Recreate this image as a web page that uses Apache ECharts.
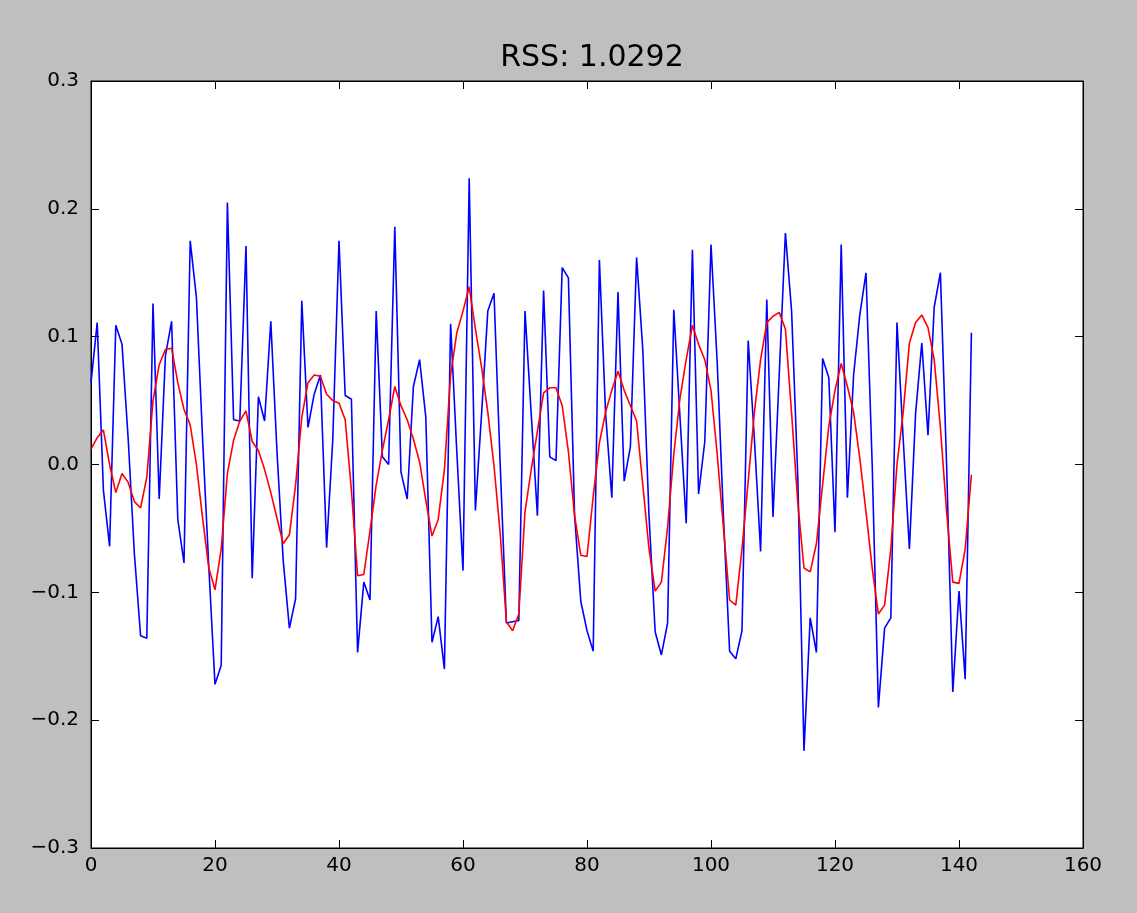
<!DOCTYPE html>
<html>
<head>
<meta charset="utf-8">
<script src="https://cdn.jsdelivr.net/npm/echarts@6/dist/echarts.min.js"></script>
<style>
  html, body { margin: 0; padding: 0; background: #bfbfbf; }
  #chart { width: 1137px; height: 913px; }
</style>
</head>
<body>
<div id="chart"></div>
<script>
// values, index 0..142
const original = [
  0.064, 0.111, -0.02, -0.064, 0.109, 0.094, 0.02, -0.07, -0.134, -0.136,
  0.126, -0.027, 0.085, 0.112, -0.043, -0.077, 0.175, 0.131, 0.02, -0.08,
  -0.172, -0.157, 0.205, 0.035, 0.034, 0.171, -0.089, 0.053, 0.034, 0.112,
  0.01, -0.075, -0.128, -0.105, 0.128, 0.029, 0.055, 0.07, -0.065, 0.02,
  0.175, 0.054, 0.051, -0.147, -0.092, -0.106, 0.12, 0.006, 0.0, 0.186,
  -0.006, -0.027, 0.061, 0.082, 0.037, -0.139, -0.119, -0.16, 0.11, 0.01,
  -0.083, 0.224, -0.036, 0.04, 0.12, 0.134, 0.0, -0.124, -0.123, -0.122,
  0.12, 0.04, -0.04, 0.136, 0.006, 0.003, 0.154, 0.146, -0.04, -0.107,
  -0.13, -0.146, 0.16, 0.04, -0.026, 0.135, -0.013, 0.014, 0.162, 0.09,
  -0.04, -0.131, -0.149, -0.124, 0.121, 0.037, -0.046, 0.168, -0.023, 0.018,
  0.172, 0.08, -0.04, -0.146, -0.152, -0.13, 0.097, 0.02, -0.068, 0.129,
  -0.041, 0.07, 0.181, 0.12, -0.01, -0.224, -0.12, -0.147, 0.083, 0.068,
  -0.053, 0.172, -0.026, 0.07, 0.117, 0.15, 0.0, -0.19, -0.128, -0.12,
  0.111, 0.02, -0.066, 0.04, 0.095, 0.023, 0.123, 0.15, 0.0, -0.178,
  -0.099, -0.168, 0.103
];
const fitted = [
  0.012, 0.021, 0.027, 0.0, -0.022, -0.007, -0.014, -0.029, -0.034, -0.01,
  0.05, 0.078, 0.09, 0.091, 0.064, 0.043, 0.031, 0.0, -0.042, -0.081,
  -0.098, -0.066, -0.007, 0.019, 0.034, 0.042, 0.018, 0.011, -0.004, -0.022,
  -0.042, -0.062, -0.055, -0.016, 0.037, 0.064, 0.07, 0.069, 0.055, 0.05,
  0.048, 0.035, -0.02, -0.087, -0.086, -0.052, -0.016, 0.011, 0.035, 0.061,
  0.046, 0.035, 0.02, 0.002, -0.028, -0.056, -0.043, -0.004, 0.07, 0.103,
  0.12, 0.139, 0.106, 0.076, 0.041, -0.001, -0.054, -0.123, -0.13, -0.117,
  -0.037, -0.004, 0.026, 0.056, 0.06, 0.06, 0.046, 0.01, -0.04, -0.071,
  -0.072, -0.025, 0.017, 0.041, 0.058, 0.073, 0.058, 0.046, 0.034, -0.016,
  -0.066, -0.099, -0.092, -0.049, 0.008, 0.052, 0.082, 0.109, 0.094, 0.082,
  0.058, 0.008, -0.049, -0.106, -0.11, -0.066, -0.013, 0.041, 0.082, 0.111,
  0.116, 0.119, 0.106, 0.04, -0.03, -0.081, -0.084, -0.062, -0.016, 0.03,
  0.058, 0.079, 0.061, 0.041, 0.005, -0.037, -0.081, -0.117, -0.11, -0.066,
  0.0, 0.041, 0.095, 0.111, 0.117, 0.107, 0.082, 0.029, -0.037, -0.092,
  -0.093, -0.066, -0.008
];
const titleText = 'RSS: 1.0292';
const xTicks = { min: 0, max: 160, interval: 20 };
const yTicks = { min: -0.3, max: 0.3, interval: 0.1 };

const font = 'DejaVu Sans';
const fmtY = v => (v < 0 ? '\u2212' : '') + Math.abs(v).toFixed(1);

let chart = echarts.init(document.getElementById('chart'));

const tickStyle = { inside: true, length: 8, lineStyle: { color: '#000', width: 1 } };
const lineStyle = { onZero: false, lineStyle: { color: '#000', width: 1 } };

let option = {
  backgroundColor: '#bfbfbf',
  animation: false,
  title: {
    text: titleText,
    left: 587,
    textAlign: 'center',
    top: 38,
    textStyle: { fontFamily: font, fontSize: 30, fontWeight: 'normal', color: '#000' }
  },
  grid: {
    left: 91, top: 81, right: 54, bottom: 65,
    show: true, backgroundColor: '#fff', borderColor: '#000', borderWidth: 1
  },
  xAxis: [
    {
      type: 'value', min: xTicks.min, max: xTicks.max, interval: xTicks.interval,
      position: 'bottom',
      axisLine: lineStyle, axisTick: tickStyle, splitLine: { show: false },
      axisLabel: { fontFamily: font, fontSize: 20, color: '#000', margin: 8 }
    },
    {
      type: 'value', min: xTicks.min, max: xTicks.max, interval: xTicks.interval,
      position: 'top',
      axisLine: lineStyle, axisTick: tickStyle, splitLine: { show: false },
      axisLabel: { show: false }
    }
  ],
  yAxis: [
    {
      type: 'value', min: yTicks.min, max: yTicks.max, interval: yTicks.interval,
      position: 'left',
      axisLine: { show: true, onZero: false, lineStyle: { color: '#000', width: 1 } },
      axisTick: tickStyle, splitLine: { show: false },
      axisLabel: { fontFamily: font, fontSize: 20, color: '#000', margin: 12, formatter: fmtY }
    },
    {
      type: 'value', min: yTicks.min, max: yTicks.max, interval: yTicks.interval,
      position: 'right',
      axisLine: { show: true, onZero: false, lineStyle: { color: '#000', width: 1 } },
      axisTick: tickStyle, splitLine: { show: false },
      axisLabel: { show: false }
    }
  ],
  series: [
    {
      name: 'original', type: 'line', showSymbol: false,
      data: original.map((v, i) => [i, v]),
      lineStyle: { color: '#0000ff', width: 1.6 }
    },
    {
      name: 'fitted', type: 'line', showSymbol: false,
      data: fitted.map((v, i) => [i, v]),
      lineStyle: { color: '#ff0000', width: 1.6 }
    }
  ]
};

option && chart.setOption(option);
</script>
</body>
</html>
